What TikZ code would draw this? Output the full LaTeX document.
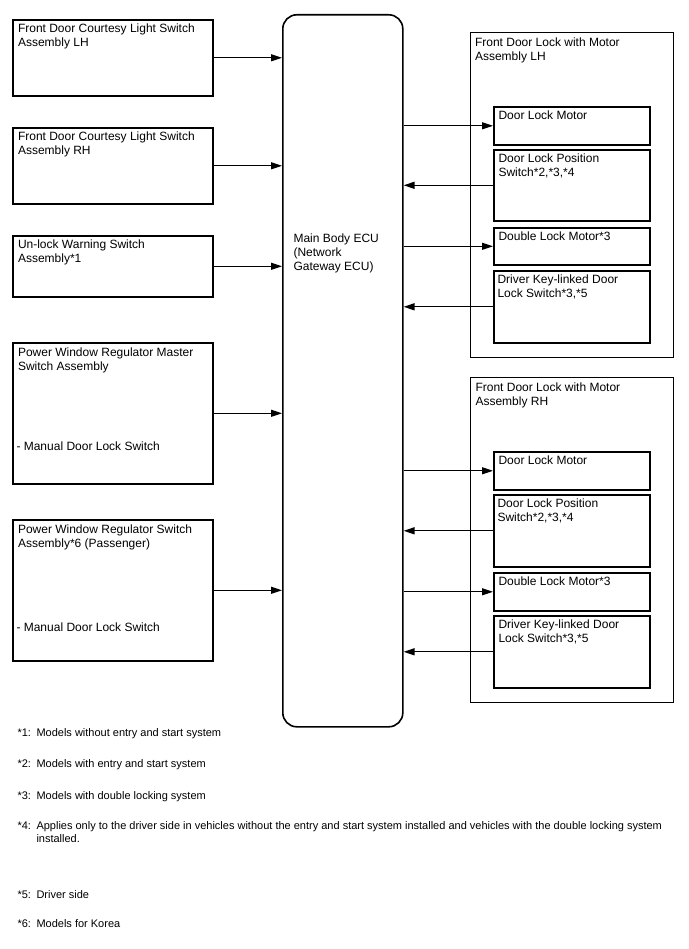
\documentclass[tikz,border=0pt]{standalone}
\usepackage{fontspec}
\setmainfont{Liberation Sans}
\usetikzlibrary{arrows.meta}

\begin{document}
\begin{tikzpicture}[x=1pt,y=-1pt,line width=1pt,font=\fontsize{12}{14}\selectfont,
  box/.style={draw,line width=1.6pt,anchor=north west,inner sep=0pt},
  txt/.style={anchor=north west,align=left,inner sep=0pt},
  arr/.style={line width=1.3pt,-{Triangle[length=11pt,width=7pt]}},
  note/.style={anchor=base west,inner sep=0pt,font=\fontsize{11}{13}\selectfont}]
\useasboundingbox (0,0) rectangle (688,949);
% switches on the left
\node[box,minimum width=200,minimum height=76] (cl) at (12,19) {};
\node[box,minimum width=200,minimum height=76] (cr) at (12,127) {};
\node[box,minimum width=200,minimum height=61] (uw) at (12,235) {};
\node[box,minimum width=200,minimum height=141] (pm) at (12,342) {};
\node[box,minimum width=200,minimum height=141] (pp) at (12,519) {};
\node[txt] (clt) at ([xshift=5.5pt,yshift=-4.5pt]cl.north west) {Front Door Courtesy Light Switch\\Assembly LH};
\node[txt] (crt) at ([xshift=5.5pt,yshift=-4.5pt]cr.north west) {Front Door Courtesy Light Switch\\Assembly RH};
\node[txt] (uwt) at ([xshift=5.5pt,yshift=-4.5pt]uw.north west) {Un-lock Warning Switch\\Assembly*1};
\node[txt] (pmt) at ([xshift=5.5pt,yshift=-5.5pt]pm.north west) {Power Window Regulator Master\\Switch Assembly};
\node[txt] (pmm) at ([xshift=4pt,yshift=-99pt]pm.north west) {- Manual Door Lock Switch};
\node[txt] (ppt) at ([xshift=5.5pt,yshift=-5.5pt]pp.north west) {Power Window Regulator Switch\\Assembly*6 (Passenger)};
\node[txt] (ppm) at ([xshift=4pt,yshift=-103.5pt]pp.north west) {- Manual Door Lock Switch};
% ECU
\node[box,rounded corners=14pt,minimum width=120,minimum height=712] (ecu) at (282,14) {};
\node[txt] (ecut) at (293,233) {Main Body ECU\\(Network\\Gateway ECU)};
% door lock assemblies
\node[box,line width=1.2pt,minimum width=203,minimum height=325] (asmL) at (470,32) {};
\node[box,line width=1.2pt,minimum width=203,minimum height=325] (asmR) at (470,377) {};
\node[txt] (asmLt) at ([xshift=4.5pt,yshift=-5pt]asmL.north west) {Front Door Lock with Motor\\Assembly LH};
\node[txt] (asmRt) at ([xshift=5pt,yshift=-5pt]asmR.north west) {Front Door Lock with Motor\\Assembly RH};
\node[box,minimum width=156,minimum height=38] (dlmL) at (493,106) {};
\node[box,minimum width=156,minimum height=71] (dpsL) at (493,149) {};
\node[box,minimum width=156,minimum height=37] (wlmL) at (493,227) {};
\node[box,minimum width=156,minimum height=72] (dksL) at (493,270) {};
\node[box,minimum width=156,minimum height=38] (dlmR) at (493,451) {};
\node[box,minimum width=156,minimum height=72] (dpsR) at (493,494) {};
\node[box,minimum width=156,minimum height=38] (wlmR) at (493,572) {};
\node[box,minimum width=156,minimum height=72] (dksR) at (493,615) {};
\node[txt] (dlmLt) at ([xshift=5pt,yshift=-4pt]dlmL.north west) {Door Lock Motor};
\node[txt] (dpsLt) at ([xshift=5pt,yshift=-4pt]dpsL.north west) {Door Lock Position\\Switch*2,*3,*4};
\node[txt] (wlmLt) at ([xshift=5pt,yshift=-4pt]wlmL.north west) {Double Lock Motor*3};
\node[txt] (dksLt) at ([xshift=4pt,yshift=-4pt]dksL.north west) {Driver Key-linked Door\\Lock Switch*3,*5};
\node[txt] (dlmRt) at ([xshift=5pt,yshift=-4pt]dlmR.north west) {Door Lock Motor};
\node[txt] (dpsRt) at ([xshift=4pt,yshift=-4pt]dpsR.north west) {Door Lock Position\\Switch*2,*3,*4};
\node[txt] (wlmRt) at ([xshift=5pt,yshift=-4pt]wlmR.north west) {Double Lock Motor*3};
\node[txt] (dksRt) at ([xshift=5pt,yshift=-4pt]dksR.north west) {Driver Key-linked Door\\Lock Switch*3,*5};
% signals
\draw[arr] (cl.east) -- (cl.east -| ecu.west);
\draw[arr] (cr.east) -- (cr.east -| ecu.west);
\draw[arr] (uw.east) -- (uw.east -| ecu.west);
\draw[arr] (pm.east) -- (pm.east -| ecu.west);
\draw[arr] (pp.east) -- (pp.east -| ecu.west);
\draw[arr] (ecu.east |- dlmL.west) -- (dlmL.west);
\draw[arr] (dpsL.west) -- (ecu.east |- dpsL.west);
\draw[arr] (ecu.east |- wlmL.west) -- (wlmL.west);
\draw[arr] (dksL.west) -- (ecu.east |- dksL.west);
\draw[arr] (ecu.east |- dlmR.west) -- (dlmR.west);
\draw[arr] (dpsR.west) -- (ecu.east |- dpsR.west);
\draw[arr] (ecu.east |- wlmR.west) -- (wlmR.west);
\draw[arr] (dksR.west) -- (ecu.east |- dksR.west);
% notes
\node[note] (n1) at (17,736) {*1:};
\node[note] (n1t) at (36,736) {Models without entry and start system};
\node[note] (n2) at (17,767) {*2:};
\node[note] (n2t) at (36,767) {Models with entry and start system};
\node[note] (n3) at (17,799) {*3:};
\node[note] (n3t) at (36,799) {Models with double locking system};
\node[note] (n4) at (17,829.5) {*4:};
\node[note] (n4t) at (36,829.5) {Applies only to the driver side in vehicles without the entry and start system installed and vehicles with the double locking system};
\node[note] (n4u) at (36,842.5) {installed.};
\node[note] (n5) at (17,898) {*5:};
\node[note] (n5t) at (36,898) {Driver side};
\node[note] (n6) at (17,927) {*6:};
\node[note] (n6t) at (36,927) {Models for Korea};
\end{tikzpicture}
\end{document}
